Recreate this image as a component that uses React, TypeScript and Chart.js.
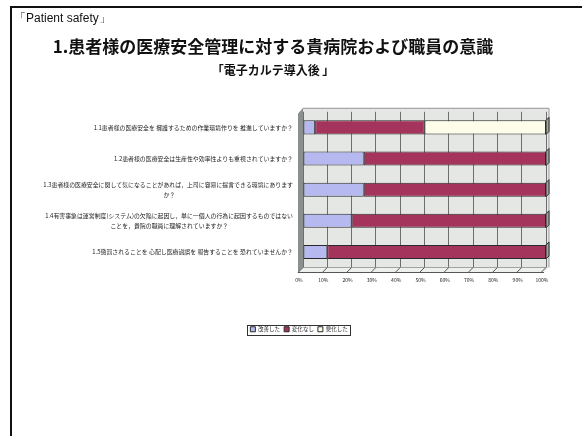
import React, { useEffect, useRef } from 'react';
import { Chart, registerables } from 'chart.js';

Chart.register(...registerables);

const FONT_JP = '"Noto Sans CJK JP", "Noto Sans", sans-serif';
const FONT_LATIN = '"Liberation Sans", Arial, sans-serif';

const headerText = '「Patient safety」';
const titleText = '1.患者様の医療安全管理に対する貴病院および職員の意識';
const subtitleText = '「電子カルテ導入後 」';

const categories: string[][] = [
  ['1.1患者様の医療安全を 擁護するための作業環境作りを 推進していますか？'],
  ['1.2患者様の医療安全は生産性や効率性よりも重視されていますか？'],
  ['1.3患者様の医療安全に関して気になることがあれば，上司に容易に提言できる環境にあります', 'か？'],
  ['1.4有害事象は運営制度(システム)の欠陥に起因し，単に一個人の行為に起因するものではない', 'ことを，貴院の職員に理解されていますか？'],
  ['1.5懲罰されることを 心配し医療過誤を 報告することを 恐れていませんか？'],
];
const seriesNames = ['改善した', '変化なし', '悪化した'];
const improved = [5, 25, 25, 20, 10];
const unchanged = [45, 75, 75, 80, 90];
const worsened = [50, 0, 0, 0, 0];
const xTickStep = 10;
const xMax = 100;

const COLORS = ['#b6b9ef', '#a5345c', '#fdfde9'];
const LABEL_SIZE = 5.9;
const LEGEND_SHIFT = 26;

const decor = {
  id: 'decor',
  afterLayout(chart: any) {
    const lg = chart.legend;
    if (lg) {
      lg.left += LEGEND_SHIFT;
      lg.right += LEGEND_SHIFT;
    }
  },
  beforeDraw(chart: any) {
    const { ctx, chartArea: ca, width, height } = chart;
    ctx.save();
    ctx.fillStyle = '#ffffff';
    ctx.fillRect(0, 0, width, height);
    // back wall
    ctx.fillStyle = '#e4e7e4';
    ctx.fillRect(ca.left, ca.top - 4, ca.right - ca.left + 3, ca.bottom - ca.top + 4);
    ctx.strokeStyle = '#9a9a9a';
    ctx.lineWidth = 1;
    ctx.beginPath();
    ctx.moveTo(ca.left, ca.top - 3.5);
    ctx.lineTo(ca.right + 3, ca.top - 3.5);
    ctx.lineTo(ca.right + 3, ca.bottom);
    ctx.stroke();
    // left wall
    ctx.fillStyle = '#8c908c';
    ctx.beginPath();
    ctx.moveTo(ca.left - 5, ca.top + 2);
    ctx.lineTo(ca.left, ca.top - 4);
    ctx.lineTo(ca.left, ca.bottom);
    ctx.lineTo(ca.left - 5, ca.bottom + 5);
    ctx.closePath();
    ctx.fill();
    ctx.restore();
  },
  beforeDatasetsDraw(chart: any) {
    const { ctx, chartArea: ca, scales } = chart;
    const xs = scales.x;
    ctx.save();
    ctx.fillStyle = '#eef0ee';
    ctx.beginPath();
    ctx.moveTo(ca.left, ca.bottom);
    ctx.lineTo(ca.right + 3, ca.bottom);
    ctx.lineTo(ca.right - 2, ca.bottom + 5);
    ctx.lineTo(ca.left - 5, ca.bottom + 5);
    ctx.closePath();
    ctx.fill();
    ctx.strokeStyle = '#555';
    ctx.lineWidth = 1;
    for (let v = 0; v <= xMax; v += xTickStep) {
      const x = xs.getPixelForValue(v);
      ctx.beginPath();
      ctx.moveTo(x, ca.bottom);
      ctx.lineTo(x - 5, ca.bottom + 5);
      ctx.stroke();
    }
    ctx.beginPath();
    ctx.moveTo(ca.left - 5, ca.bottom + 5);
    ctx.lineTo(ca.right - 2, ca.bottom + 5);
    ctx.stroke();
    ctx.restore();
  },
  afterDatasetsDraw(chart: any) {
    // small 3D end face on the right of each bar
    const { ctx } = chart;
    const meta = chart.getDatasetMeta(2);
    const meta1 = chart.getDatasetMeta(1);
    ctx.save();
    meta.data.forEach((bar: any, i: number) => {
      const b = bar.width > 0.5 ? bar : meta1.data[i];
      const { x, y, height: h } = b.getProps(['x', 'y', 'height'], true);
      const top = y - h / 2;
      ctx.fillStyle = '#9fa89f';
      ctx.strokeStyle = '#2a2a2a';
      ctx.lineWidth = 1;
      ctx.beginPath();
      ctx.moveTo(x, top);
      ctx.lineTo(x + 3, top - 3);
      ctx.lineTo(x + 3, top + h - 3);
      ctx.lineTo(x, top + h);
      ctx.closePath();
      ctx.fill();
      ctx.stroke();
    });
    ctx.restore();
  },
  afterDraw(chart: any) {
    const { ctx, width, height } = chart;
    ctx.save();
    // slide frame
    ctx.strokeStyle = '#111';
    ctx.lineWidth = 2;
    ctx.beginPath();
    ctx.moveTo(11, height);
    ctx.lineTo(11, 7);
    ctx.lineTo(width, 7);
    ctx.stroke();
    // header text
    ctx.fillStyle = '#111';
    ctx.font = `12px ${FONT_LATIN}`;
    ctx.textAlign = 'left';
    ctx.textBaseline = 'middle';
    ctx.fillText(headerText, 14, 19);
    // legend border
    const lg = chart.legend;
    if (lg && lg.legendHitBoxes && lg.legendHitBoxes.length) {
      let l = Infinity, t = Infinity, r = -Infinity, b = -Infinity;
      lg.legendHitBoxes.forEach((h: any) => {
        l = Math.min(l, h.left);
        t = Math.min(t, h.top);
        r = Math.max(r, h.left + h.width);
        b = Math.max(b, h.top + h.height);
      });
      ctx.strokeStyle = '#333';
      ctx.lineWidth = 1;
      ctx.strokeRect(Math.round(l - 3) + 0.5, Math.round(t - 2) + 0.5, Math.round(r - l + 6), Math.round(b - t + 4));
    }
    ctx.restore();
  },
};

export default function App() {
  const ref = useRef<HTMLCanvasElement>(null);

  useEffect(() => {
    document.body.style.margin = '0';
    const mc = document.createElement('canvas').getContext('2d')!;
    mc.font = `${LABEL_SIZE}px ${FONT_JP}`;
    const spaceW = mc.measureText('\u3000').width || LABEL_SIZE;
    const tickLabels = categories.map((lines) => {
      if (lines.length < 2) return lines;
      const widest = Math.max(...lines.map((s) => mc.measureText(s).width));
      return lines.map((s) => {
        const w = mc.measureText(s).width;
        const n = Math.round((widest - w) / 2 / spaceW);
        return s + '\u3000'.repeat(Math.max(0, n));
      });
    });

    const chart = new Chart(ref.current!, {
      type: 'bar',
      data: {
        labels: categories as any,
        datasets: [
          { label: seriesNames[0], data: improved, backgroundColor: COLORS[0] },
          { label: seriesNames[1], data: unchanged, backgroundColor: COLORS[1] },
          { label: seriesNames[2], data: worsened, backgroundColor: COLORS[2] },
        ].map((d) => ({
          ...d,
          borderColor: '#2a2a2a',
          borderWidth: 1,
          borderSkipped: false,
          barPercentage: 0.45,
          categoryPercentage: 1,
        })),
      },
      options: {
        indexAxis: 'y',
        responsive: false,
        animation: false,
        layout: { padding: { top: 0, left: 0, right: 36, bottom: 94 } },
        plugins: {
          title: {
            display: true,
            text: titleText,
            color: '#111',
            font: { family: FONT_JP, size: 17, weight: 'bold', lineHeight: 1.2 },
            padding: { top: 36, bottom: 3 },
          },
          subtitle: {
            display: true,
            text: subtitleText,
            color: '#111',
            font: { family: FONT_JP, size: 12, weight: 'bold', lineHeight: 1.2 },
            padding: { top: 4, bottom: 34 },
          },
          legend: {
            position: 'bottom',
            labels: {
              color: '#222',
              font: { family: FONT_JP, size: 5.5 },
              boxWidth: 5,
              boxHeight: 5,
              padding: 4,
            },
          },
          tooltip: { enabled: false },
        },
        scales: {
          x: {
            stacked: true,
            min: 0,
            max: xMax,
            ticks: {
              stepSize: xTickStep,
              callback: (v: any) => `${v}%`,
              color: '#222',
              font: { family: FONT_JP, size: 5 },
              padding: 10,
              labelOffset: -4,
              maxRotation: 0,
            },
            grid: { color: '#6e6e6e', lineWidth: 1, drawTicks: false },
            border: { display: true, color: '#555' },
            afterFit: (s: any) => { s.height = 55; },
          },
          y: {
            stacked: true,
            ticks: {
              color: '#222',
              font: { family: FONT_JP, size: LABEL_SIZE, lineHeight: 1.7 },
              padding: 10,
              autoSkip: false,
              callback: (_v: any, i: number) => tickLabels[i],
            },
            grid: { display: false, drawTicks: false },
            border: { display: false },
            afterFit: (s: any) => { s.width = 303; },
          },
        },
      },
      plugins: [decor],
    });
    return () => chart.destroy();
  }, []);

  return (
    <div style={{ position: 'absolute', left: 0, top: 0, width: 582, height: 436 }}>
      <canvas ref={ref} width={582} height={436} />
    </div>
  );
}
